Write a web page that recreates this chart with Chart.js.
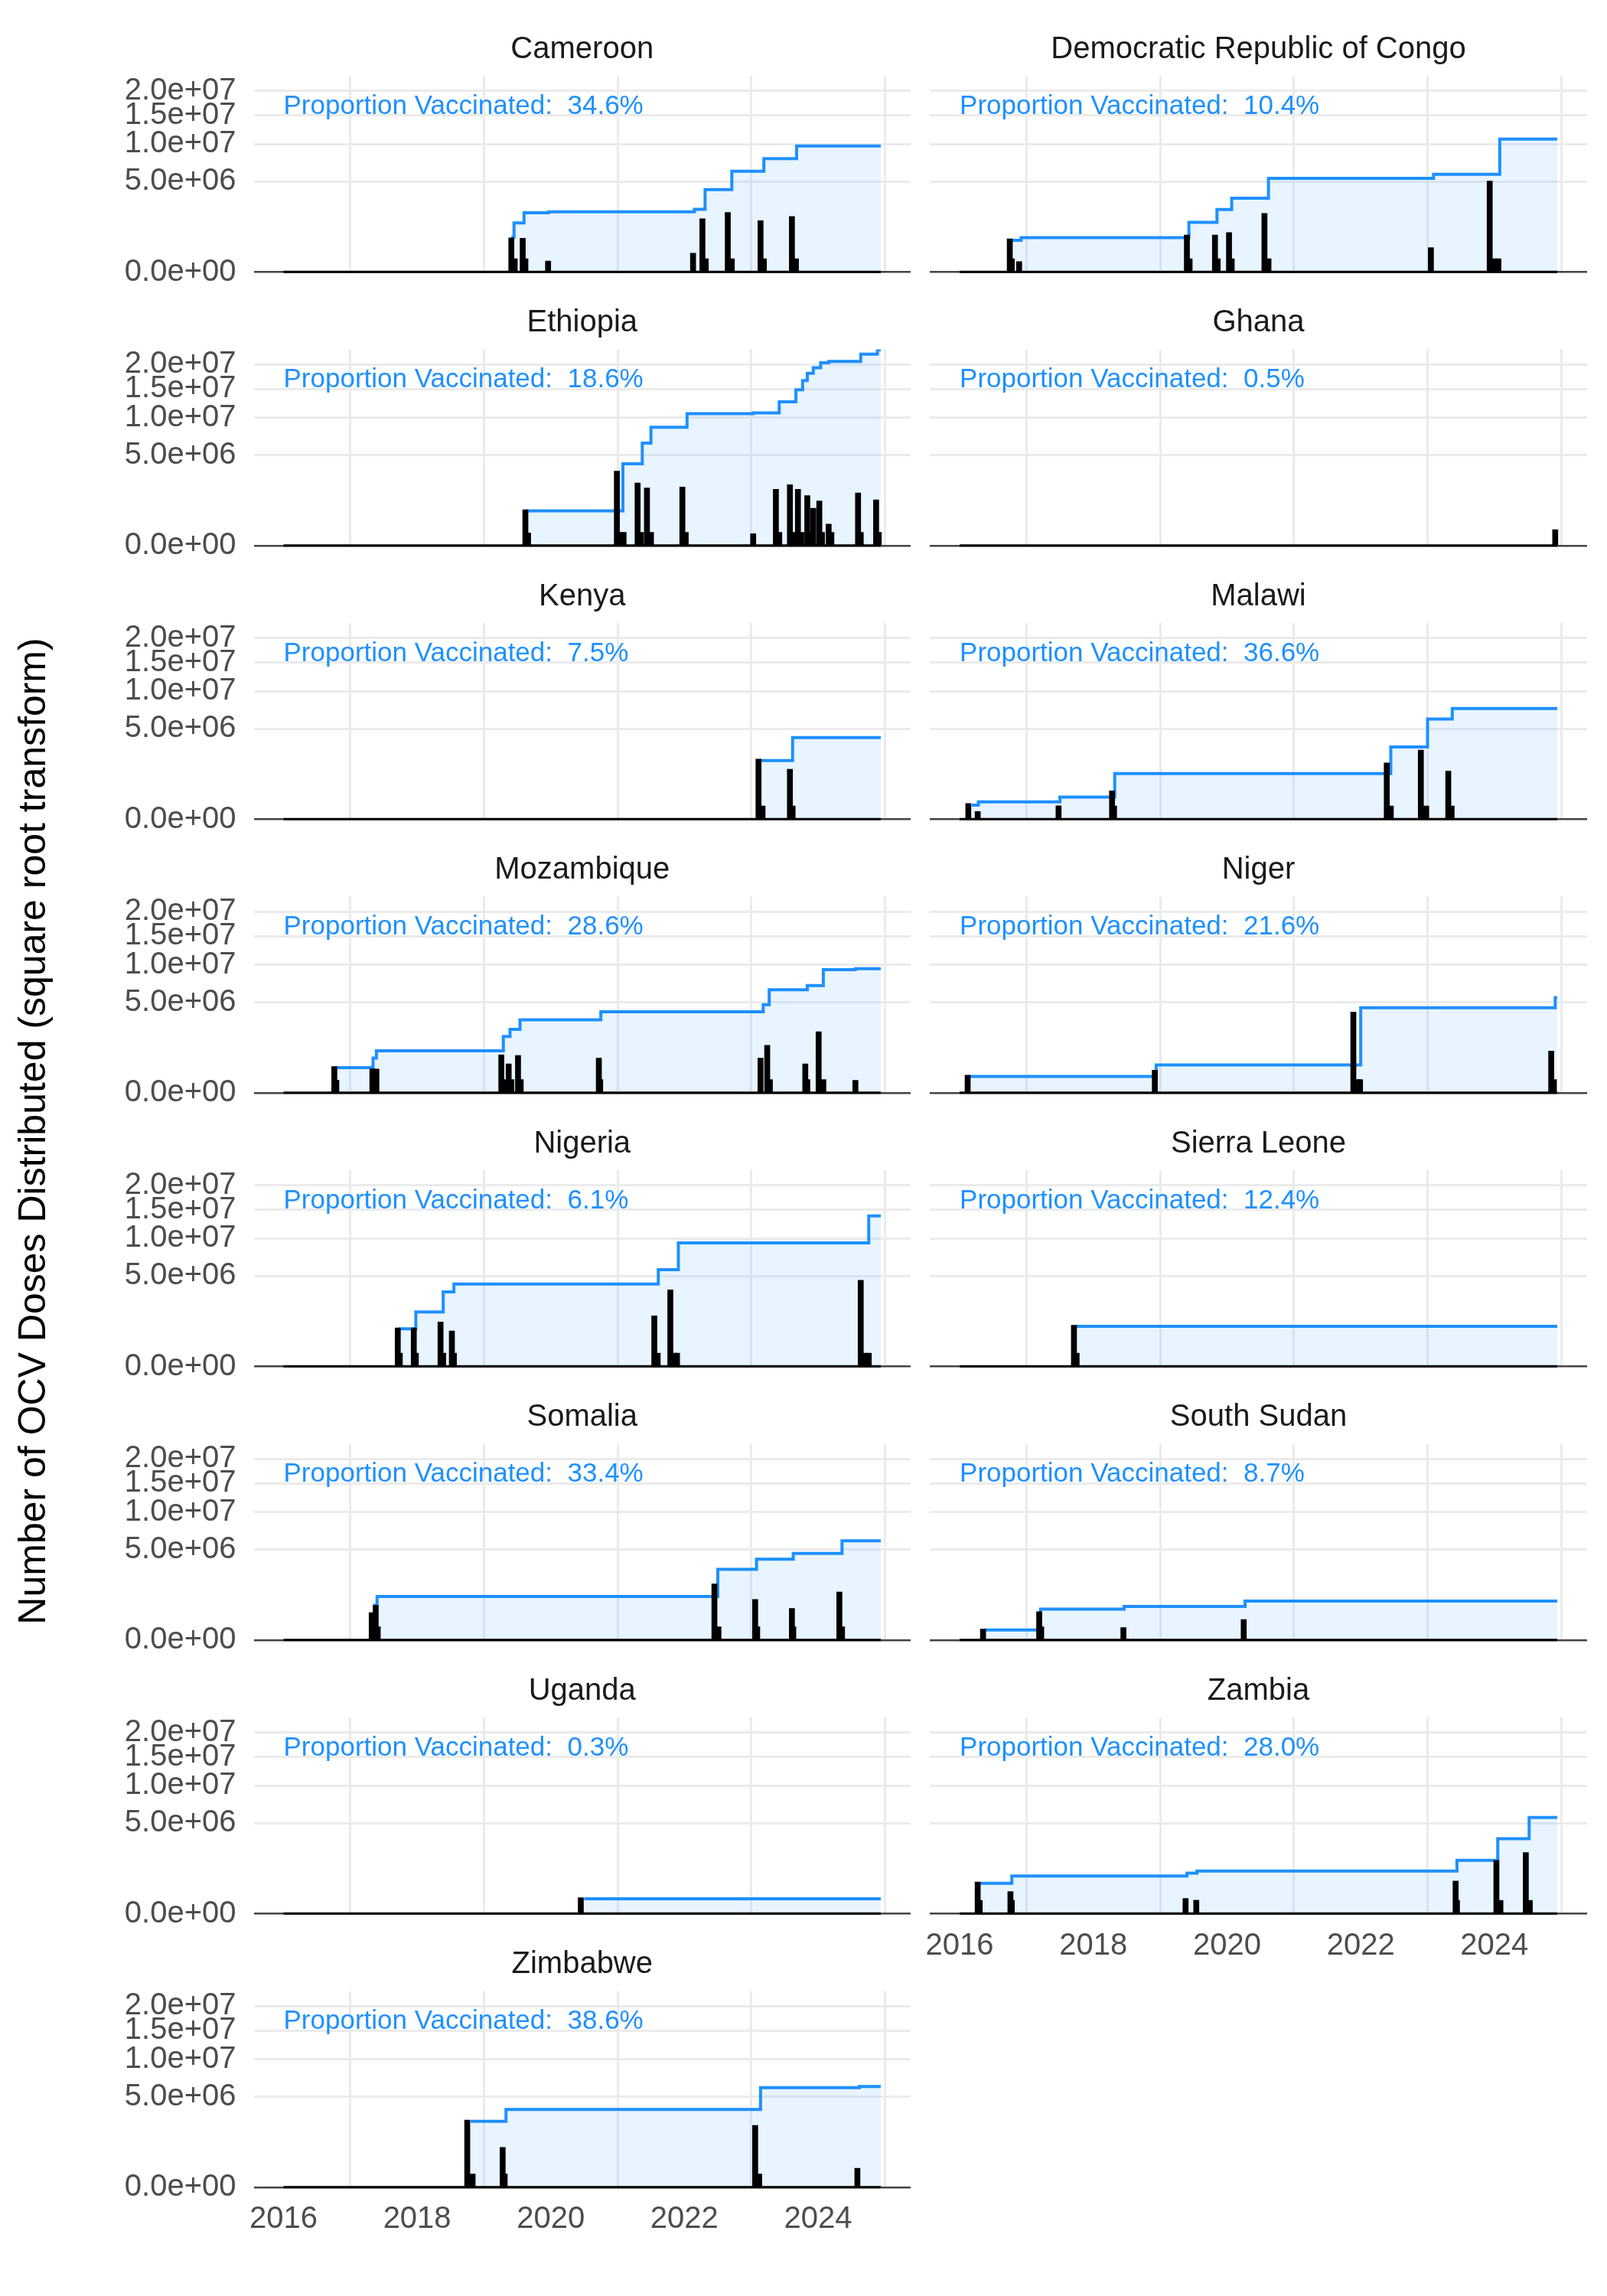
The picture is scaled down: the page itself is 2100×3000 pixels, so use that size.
<!DOCTYPE html>
<html>
<head>
<meta charset="utf-8">
<script src="https://cdn.jsdelivr.net/npm/chart.js@4.4.1/dist/chart.umd.min.js"></script>
<style>
  html, body { margin: 0; padding: 0; background: #fff; }
  #page { position: relative; width: 2100px; height: 3000px; overflow: hidden; background: #fff;
          font-family: 'Liberation Sans', Arial, Helvetica, sans-serif; }
  #page canvas { position: absolute; }
  #ytitle { position: absolute; left: 42px; top: 1478px; white-space: nowrap; font-size: 50px; color: #000;
            transform: translate(-50%, -50%) rotate(-90deg); }
</style>
</head>
<body>
<div id="page">
  <div id="ytitle">Number of OCV Doses Distributed (square root transform)</div>
</div>
<script>
// ---- data (dates as decimal years, doses as counts) ----
const COUNTRIES = ['Cameroon', 'Democratic Republic of Congo', 'Ethiopia', 'Ghana', 'Kenya', 'Malawi',
  'Mozambique', 'Niger', 'Nigeria', 'Sierra Leone', 'Somalia', 'South Sudan', 'Uganda', 'Zambia', 'Zimbabwe'];
const PCT_VACCINATED = ['34.6', '10.4', '18.6', '0.5', '7.5', '36.6', '28.6', '21.6', '6.1', '12.4',
  '33.4', '8.7', '0.3', '28.0', '38.6'];

const DATE_START = 2016.0;
const DATE_END = 2024.94;
const X_TICKS = [2016, 2018, 2020, 2022, 2024];
const Y_TICKS = [0, 5e6, 1e7, 1.5e7, 2e7];
const Y_TICK_LABELS = ['0.0e+00', '5.0e+06', '1.0e+07', '1.5e+07', '2.0e+07'];
const Y_MIN = -400;
const Y_MAX = 2.351e7;
const LABEL_X = 2016;
const LABEL_Y = 1.53e7;

// doses distributed per shipment: [date, doses]
const DOSES_CAMEROON = [[2019.41, 7.2e5], [2019.46, 1.1e5], [2019.58, 7.0e5], [2019.62, 1.1e5], [2019.96, 7.5e4],
  [2022.13, 2.2e5], [2022.27, 1.74e6], [2022.32, 1.1e5], [2022.65, 2.18e6], [2022.71, 1.1e5],
  [2023.14, 1.62e6], [2023.19, 1.1e5], [2023.61, 1.89e6], [2023.67, 1.1e5]];
const DOSES_DRC = [[2016.75, 6.8e5], [2016.78, 1.1e5], [2016.89, 6.7e4], [2019.40, 8.4e5], [2019.44, 1.1e5],
  [2019.82, 8.4e5], [2019.86, 1.1e5], [2020.03, 9.6e5], [2020.07, 1.1e5], [2020.56, 2.11e6], [2020.62, 1.1e5],
  [2023.05, 3.65e5], [2023.93, 5.07e6], [2024.00, 1.1e5], [2024.06, 1.1e5]];
const DOSES_ETHIOPIA = [[2019.62, 7.9e5], [2019.66, 1.0e5], [2020.99, 3.40e6], [2021.04, 1.1e5], [2021.09, 1.1e5],
  [2021.30, 2.41e6], [2021.35, 1.1e5], [2021.44, 2.04e6], [2021.50, 1.1e5], [2021.97, 2.10e6], [2022.02, 1.1e5],
  [2023.03, 9.0e4], [2023.37, 1.95e6], [2023.42, 1.1e5], [2023.58, 2.27e6], [2023.63, 1.1e5], [2023.70, 1.95e6],
  [2023.75, 1.1e5], [2023.84, 1.54e6], [2023.88, 1.1e5], [2023.93, 8.6e5], [2024.02, 1.22e6], [2024.06, 1.1e5],
  [2024.16, 2.85e5], [2024.20, 1.1e5], [2024.60, 1.70e6], [2024.64, 1.1e5], [2024.87, 1.29e6], [2024.91, 1.1e5]];
const DOSES_GHANA = [[2024.91, 1.6e5]];
const DOSES_KENYA = [[2023.11, 2.22e6], [2023.17, 1.1e5], [2023.58, 1.54e6], [2023.62, 1.1e5]];
const DOSES_MALAWI = [[2016.13, 1.54e5], [2016.27, 3.8e4], [2017.48, 1.14e5], [2018.28, 5.0e5], [2018.31, 1.1e5],
  [2022.39, 1.95e6], [2022.45, 1.1e5], [2022.90, 2.93e6], [2022.98, 1.1e5], [2023.31, 1.42e6], [2023.36, 1.1e5]];
const DOSES_MOZAMBIQUE = [[2016.76, 4.24e5], [2016.79, 1.0e5], [2017.33, 3.56e5], [2017.39, 3.5e5],
  [2019.26, 8.86e5], [2019.29, 1.1e5], [2019.37, 5.2e5], [2019.41, 1.1e5], [2019.51, 8.57e5], [2019.55, 1.1e5],
  [2020.72, 7.45e5], [2020.74, 1.1e5], [2023.14, 7.45e5], [2023.24, 1.385e6], [2023.28, 1.1e5],
  [2023.81, 5.2e5], [2023.84, 1.1e5], [2024.01, 2.29e6], [2024.08, 1.1e5], [2024.56, 9.8e4]];
const DOSES_NIGER = [[2016.12, 1.93e5], [2018.92, 3.19e5], [2021.89, 4.0e6], [2021.95, 1.1e5], [2021.99, 1.1e5],
  [2024.85, 1.07e6], [2024.89, 1.1e5]];
const DOSES_NIGERIA = [[2017.71, 9.16e5], [2017.74, 1.1e5], [2017.95, 9.16e5], [2017.98, 1.1e5], [2018.35, 1.21e6],
  [2018.39, 1.1e5], [2018.52, 7.72e5], [2018.55, 1.1e5], [2021.55, 1.575e6], [2021.60, 1.1e5], [2021.79, 3.6e6],
  [2021.85, 1.1e5], [2021.89, 1.1e5], [2024.64, 4.55e6], [2024.70, 1.1e5], [2024.76, 1.1e5]];
const DOSES_SIERRA_LEONE = [[2017.71, 1.04e6], [2017.75, 1.1e5]];
const DOSES_SOMALIA = [[2017.32, 4.66e5], [2017.38, 7.45e5], [2017.41, 1.1e5], [2022.45, 1.93e6], [2022.51, 1.1e5],
  [2023.06, 1.01e6], [2023.09, 1.1e5], [2023.61, 6.16e5], [2023.63, 1.1e5], [2024.32, 1.42e6], [2024.36, 1.1e5]];
const DOSES_SOUTH_SUDAN = [[2016.35, 7.5e4], [2017.19, 5.0e5], [2017.22, 1.1e5], [2018.45, 9.8e4], [2020.25, 2.6e5]];
const DOSES_UGANDA = [[2020.45, 1.6e5]];
const DOSES_ZAMBIA = [[2016.27, 6.16e5], [2016.30, 1.1e5], [2016.76, 3.02e5], [2016.78, 1.1e5], [2019.38, 1.42e5],
  [2019.54, 1.14e5], [2023.42, 6.53e5], [2023.44, 1.1e5], [2024.03, 1.74e6], [2024.09, 1.1e5],
  [2024.47, 2.29e6], [2024.53, 1.1e5]];
const DOSES_ZIMBABWE = [[2018.75, 2.77e6], [2018.83, 1.1e5], [2019.28, 9.77e5], [2019.31, 1.1e5],
  [2023.06, 2.34e6], [2023.12, 1.1e5], [2024.59, 2.22e5]];

// cumulative doses (step line): [date, cumulative doses]
const CUM_CAMEROON = [[2019.41, 7.45e5], [2019.45, 1.48e6], [2019.60, 2.15e6], [2019.97, 2.22e6], [2022.15, 2.41e6],
  [2022.31, 4.16e6], [2022.71, 6.22e6], [2023.19, 7.85e6], [2023.68, 9.70e6], [2024.94, 9.70e6]];
const CUM_DRC = [[2016.78, 6.16e5], [2016.92, 7.31e5], [2019.43, 1.52e6], [2019.85, 2.39e6], [2020.07, 3.34e6],
  [2020.62, 5.36e6], [2023.09, 5.84e6], [2024.08, 1.08e7], [2024.94, 1.08e7]];
const CUM_ETHIOPIA = [[2019.62, 7.45e5], [2021.08, 4.10e6], [2021.37, 6.42e6], [2021.50, 8.56e6], [2022.04, 1.065e7],
  [2023.03, 1.076e7], [2023.42, 1.263e7], [2023.67, 1.484e7], [2023.77, 1.665e7], [2023.84, 1.815e7],
  [2023.93, 1.93e7], [2024.04, 2.04e7], [2024.16, 2.07e7], [2024.64, 2.24e7], [2024.89, 2.34e7], [2024.94, 2.34e7]];
const CUM_GHANA = [];
const CUM_KENYA = [[2023.13, 2.11e6], [2023.62, 4.07e6], [2024.94, 4.07e6]];
const CUM_MALAWI = [[2016.18, 1.25e5], [2016.28, 1.86e5], [2017.50, 3.02e5], [2018.32, 1.28e6], [2022.45, 3.2e6],
  [2023.00, 6.15e6], [2023.37, 7.5e6], [2024.94, 7.5e6]];
const CUM_MOZAMBIQUE = [[2016.76, 3.94e5], [2017.34, 7.45e5], [2017.39, 1.09e6], [2019.29, 1.95e6],
  [2019.39, 2.46e6], [2019.54, 3.26e6], [2020.75, 4.03e6], [2023.18, 4.76e6], [2023.27, 6.50e6],
  [2023.84, 7.03e6], [2024.08, 9.27e6], [2024.56, 9.41e6], [2024.94, 9.41e6]];
const CUM_NIGER = [[2016.15, 1.66e5], [2018.94, 4.77e5], [2022.00, 4.42e6], [2024.91, 5.54e6], [2024.94, 5.54e6]];
const CUM_NIGERIA = [[2017.72, 8.72e5], [2017.98, 1.82e6], [2018.39, 3.4e6], [2018.55, 4.16e6], [2021.61, 5.73e6],
  [2021.91, 9.32e6], [2024.76, 1.383e7], [2024.94, 1.383e7]];
const CUM_SIERRA_LEONE = [[2017.74, 9.9e5], [2024.94, 9.9e5]];
const CUM_SOMALIA = [[2017.34, 7.4e5], [2017.40, 1.17e6], [2022.50, 3.06e6], [2023.08, 4.0e6], [2023.63, 4.59e6],
  [2024.36, 6.03e6], [2024.94, 6.03e6]];
const CUM_SOUTH_SUDAN = [[2016.37, 6.3e4], [2017.21, 5.91e5], [2018.46, 6.92e5], [2020.27, 9.31e5], [2024.94, 9.31e5]];
const CUM_UGANDA = [[2020.50, 1.36e5], [2024.94, 1.36e5]];
const CUM_ZAMBIA = [[2016.31, 5.67e5], [2016.78, 8.72e5], [2019.40, 1.01e6], [2019.55, 1.12e6], [2023.44, 1.74e6],
  [2024.05, 3.43e6], [2024.52, 5.65e6], [2024.94, 5.65e6]];
const CUM_ZIMBABWE = [[2018.80, 2.66e6], [2019.33, 3.70e6], [2023.14, 6.07e6], [2024.62, 6.22e6], [2024.94, 6.22e6]];

const DOSES = [DOSES_CAMEROON, DOSES_DRC, DOSES_ETHIOPIA, DOSES_GHANA, DOSES_KENYA, DOSES_MALAWI, DOSES_MOZAMBIQUE,
  DOSES_NIGER, DOSES_NIGERIA, DOSES_SIERRA_LEONE, DOSES_SOMALIA, DOSES_SOUTH_SUDAN, DOSES_UGANDA, DOSES_ZAMBIA,
  DOSES_ZIMBABWE];
const CUMULATIVE = [CUM_CAMEROON, CUM_DRC, CUM_ETHIOPIA, CUM_GHANA, CUM_KENYA, CUM_MALAWI, CUM_MOZAMBIQUE, CUM_NIGER,
  CUM_NIGERIA, CUM_SIERRA_LEONE, CUM_SOMALIA, CUM_SOUTH_SUDAN, CUM_UGANDA, CUM_ZAMBIA, CUM_ZIMBABWE];

// ---- sqrt axis (ggplot scale_y_sqrt) ----
const ssqrt = v => Math.sign(v) * Math.sqrt(Math.abs(v));

class SqrtScale extends Chart.LinearScale {
  buildTicks() { return Y_TICKS.map(v => ({ value: v })); }
  configure() {
    super.configure();
    this._tLo = ssqrt(this.min);
    this._tHi = ssqrt(this.max);
  }
  getPixelForValue(v) {
    return this.getPixelForDecimal((ssqrt(v) - this._tLo) / (this._tHi - this._tLo));
  }
  getValueForPixel(p) {
    const t = this._tLo + this.getDecimalForPixel(p) * (this._tHi - this._tLo);
    return Math.sign(t) * t * t;
  }
}
SqrtScale.id = 'sqrt';
SqrtScale.defaults = {};
Chart.register(SqrtScale);

Chart.defaults.font.family = "'Liberation Sans', Arial, Helvetica, sans-serif";

const pctLabel = {
  id: 'pctLabel',
  afterDatasetsDraw(chart, args, opts) {
    const { ctx, scales: { x, y } } = chart;
    ctx.save();
    ctx.font = "35px 'Liberation Sans', Arial, sans-serif";
    ctx.fillStyle = '#1E90FF';
    ctx.textAlign = 'left';
    ctx.textBaseline = 'alphabetic';
    ctx.fillText(opts.text, x.getPixelForValue(LABEL_X), y.getPixelForValue(LABEL_Y));
    ctx.restore();
  }
};

const GRID = '#EBEBEB';
const xy = pts => pts.map(([x, y]) => ({ x, y }));
const span = DATE_END - DATE_START;
const X_MIN = DATE_START - 0.05 * span;
const X_MAX = DATE_END + 0.05 * span;

const page = document.getElementById('page');

COUNTRIES.forEach((name, i) => {
  const col = i % 2, row = Math.floor(i / 2);
  const showX = (i === 13 || i === 14);
  const zero = 355.7 + 357.5 * row;          // pixel row of y = 0
  const exactTop = zero - 330;
  const top = Math.round(exactTop);
  const shift = exactTop - top;
  const xh = showX ? 70 : 0;
  const below = showX ? 0 : 28;               // room for the 0.0e+00 label
  const inner = 331 + shift;
  const h = Math.ceil(inner) + xh + below;
  const left = col === 0 ? 100 : 1195;
  const w = col === 0 ? 1090 : 879;
  const yw = col === 0 ? 231.5 : 20;

  const cv = document.createElement('canvas');
  cv.width = w; cv.height = h;
  cv.style.left = left + 'px'; cv.style.top = top + 'px';
  cv.style.width = w + 'px'; cv.style.height = h + 'px';
  page.appendChild(cv);

  new Chart(cv, {
    type: 'line',
    data: {
      datasets: [
        { type: 'bar', data: xy(DOSES[i]), backgroundColor: '#000', borderWidth: 0, barThickness: 7, order: 0 },
        { type: 'line', data: xy([[DATE_START, 0], [DATE_END, 0]]), borderColor: '#000', borderWidth: 4,
          pointRadius: 0, order: 1 },
        { type: 'line', data: xy(CUMULATIVE[i]), stepped: 'before', borderColor: '#1E90FF', borderWidth: 4,
          backgroundColor: 'rgba(30,144,255,0.1)', fill: 'origin', pointRadius: 0, order: 2 }
      ]
    },
    options: {
      responsive: false,
      animation: false,
      events: [],
      devicePixelRatio: 1,
      layout: { padding: { top: 0, left: 0, right: 0, bottom: h - xh - inner } },
      plugins: {
        legend: { display: false },
        tooltip: { enabled: false },
        title: {
          display: true, text: name, fullSize: false, color: '#1A1A1A',
          font: { size: 40, weight: 'normal', lineHeight: 1.2 },
          padding: { top: 15 + shift, bottom: 10.3 }
        },
        pctLabel: { text: 'Proportion Vaccinated:  ' + PCT_VACCINATED[i] + '%' }
      },
      scales: {
        x: {
          type: 'linear', min: X_MIN, max: X_MAX, offset: false,
          border: { display: false },
          grid: { color: GRID, lineWidth: 3, drawTicks: false },
          ticks: { display: showX, color: '#4D4D4D', font: { size: 40 }, padding: 17, maxRotation: 0,
                   callback: v => String(v) },
          afterBuildTicks: s => { s.ticks = X_TICKS.map(v => ({ value: v })); },
          afterFit: s => { s.height = xh; s.paddingLeft = 0; s.paddingRight = 0; }
        },
        y: {
          type: 'sqrt', min: Y_MIN, max: Y_MAX,
          border: { display: false },
          grid: {
            drawTicks: false,
            color: c => (c.tick && c.tick.value === 0) ? '#444444' : GRID,
            lineWidth: c => (c.tick && c.tick.value === 0) ? 2.5 : 3
          },
          ticks: { display: col === 0, autoSkip: false, color: '#4D4D4D', font: { size: 40 }, padding: 23,
                   callback: (v, k) => Y_TICK_LABELS[k] },
          afterFit: s => { s.width = yw; s.paddingTop = 0; s.paddingBottom = 0; }
        }
      }
    },
    plugins: [pctLabel]
  });
});
</script>
</body>
</html>
